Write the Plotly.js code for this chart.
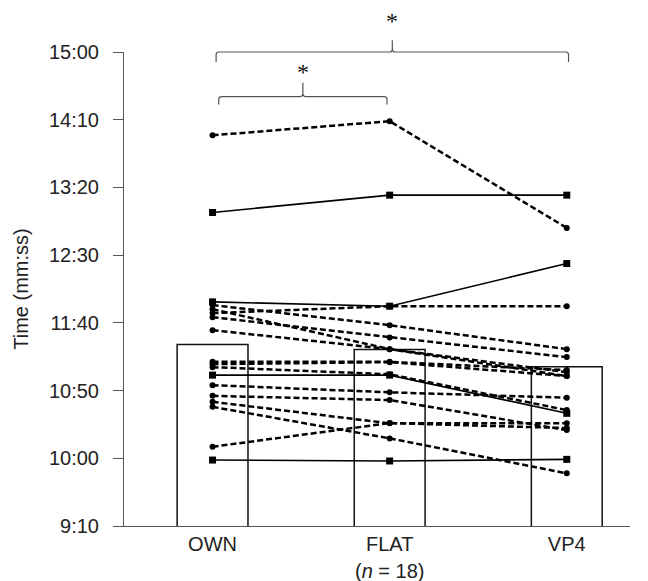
<!DOCTYPE html>
<html>
<head>
<meta charset="utf-8">
<script src="https://cdn.plot.ly/plotly-3.0.1.min.js"></script>
<style>html,body{margin:0;padding:0;background:#fff;}#chart{width:648px;height:581px;}</style>
</head>
<body>
<div id="chart"></div>
<script>
// ---- data (seconds) ----
const categories = ['OWN', 'FLAT', 'VP4'];
const meanTimes = [684.1, 680.4, 667.5];
const ownTimes  = [838.5, 781.5, 715.5, 707.2, 713.1, 704.2, 694.6, 710.1, 671.2, 667.3, 661.4, 654.0, 646.1, 641.7, 638.0, 608.5, 598.7, 669.5];
const flatTimes = [848.9, 794.3, 712.3, 712.3, 698.3, 689.2, 680.6, 680.6, 671.2, 662.0, 661.4, 648.7, 643.0, 625.8, 614.7, 626.0, 598.0, 671.0];
const vp4Times  = [770.1, 794.3, 743.8, 712.3, 680.6, 674.7, 663.6, 660.7, 665.1, 635.6, 633.2, 644.7, 620.8, 625.8, 588.9, 622.3, 599.2, 660.7];
const lineStyles = ['dash','solid','solid','dash','dash','dash','dash','dash','dash','dash','solid','dash','dash','dash','dash','dash','solid','dash'];
const tickValues = [550, 600, 650, 700, 750, 800, 850, 900];
const tickLabels = ['9:10', '10:00', '10:50', '11:40', '12:30', '13:20', '14:10', '15:00'];
const sampleNote = '(<i>n</i> = 18)';

const xRange = [-0.5, 2.357];
const font = 'Liberation Sans, Arial, sans-serif';
const fs = 20;

const traces = [{
  type: 'bar', x: categories, y: meanTimes, width: 0.4,
  marker: {color: '#ffffff', line: {color: '#111', width: 1.5}},
  hoverinfo: 'skip'
}];
for (let i = 0; i < ownTimes.length; i++) {
  const solid = lineStyles[i] === 'solid';
  traces.push({
    type: 'scatter', mode: 'lines+markers', x: categories,
    y: [ownTimes[i], flatTimes[i], vp4Times[i]],
    line: {color: '#000', width: solid ? 1.6 : 2.5, dash: solid ? 'solid' : '6px,3px'},
    marker: {symbol: solid ? 'square' : 'circle', size: solid ? 7 : 6, color: '#000'},
    cliponaxis: false
  });
}

// bracket helper (x in category index -> paper via axis range)
function px(idx) { return (idx - xRange[0]) / (xRange[1] - xRange[0]); }
function bracket(a, b, yTop, yHook, yTip) {
  const x0 = px(a), x1 = px(b), xm = (x0 + x1) / 2, r = 0.006;
  return {
    type: 'path', xref: 'paper', yref: 'paper',
    path: `M ${x0} ${yHook} L ${x0} ${yTop - 0.006} Q ${x0} ${yTop} ${x0 + r} ${yTop} ` +
          `L ${xm - r} ${yTop} Q ${xm} ${yTop} ${xm} ${yTop + 0.006} L ${xm} ${yTip} ` +
          `M ${xm} ${yTop + 0.006} Q ${xm} ${yTop} ${xm + r} ${yTop} L ${x1 - r} ${yTop} ` +
          `Q ${x1} ${yTop} ${x1} ${yTop - 0.006} L ${x1} ${yHook}`,
    line: {color: '#555', width: 1.2}
  };
}

const layout = {
  width: 648, height: 581,
  margin: {l: 124, r: 18, t: 52, b: 55},
  paper_bgcolor: '#fff', plot_bgcolor: '#fff',
  showlegend: false,
  font: {family: font, color: '#222', size: fs},
  xaxis: {
    type: 'category', range: xRange, showgrid: false, zeroline: false,
    showline: true, linecolor: '#555', linewidth: 1, ticks: '',
    tickfont: {family: font, size: fs, color: '#222'}, ticklabelstandoff: 0
  },
  yaxis: {
    range: [550, 900], tickvals: tickValues, ticktext: tickLabels,
    showgrid: false, zeroline: false, showline: true, linecolor: '#555', linewidth: 1,
    ticks: 'outside', ticklen: 10, tickcolor: '#555', tickwidth: 1,
    tickfont: {family: font, size: fs, color: '#222'}, ticklabelstandoff: 10,
    title: {text: 'Time (mm:ss)', font: {family: font, size: fs, color: '#222'}, standoff: 14}
  },
  shapes: [
    bracket(0.02, 2.01, 1.0, 0.979, 1.025),
    bracket(0.035, 0.985, 0.906, 0.889, 0.935)
  ],
  annotations: [
    {xref: 'paper', yref: 'paper', x: px((0.02 + 2.01) / 2), y: 1.096, text: '*', showarrow: false,
     font: {family: 'Liberation Serif, serif', size: 24, color: '#111'}},
    {xref: 'paper', yref: 'paper', x: px((0.035 + 0.985) / 2), y: 0.990, text: '*', showarrow: false,
     font: {family: 'Liberation Serif, serif', size: 24, color: '#111'}},
    {xref: 'x', yref: 'paper', x: categories[1], y: -0.0945, yanchor: 'middle', text: sampleNote, showarrow: false,
     font: {family: font, size: fs, color: '#222'}}
  ]
};

Plotly.newPlot('chart', traces, layout, {displayModeBar: false, staticPlot: true});
</script>
</body>
</html>
